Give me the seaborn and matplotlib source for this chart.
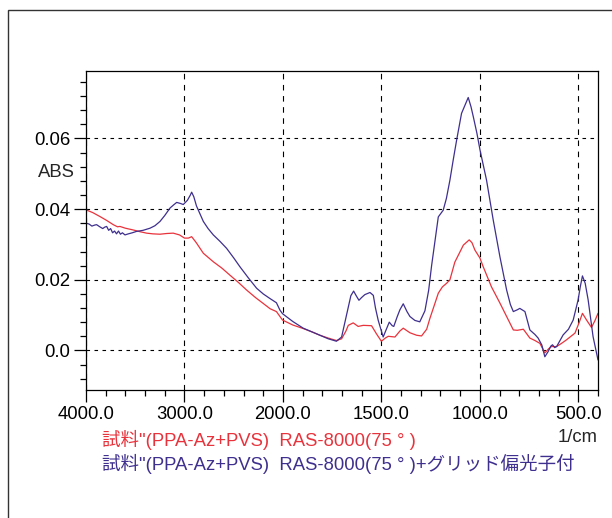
import numpy as np
import pandas as pd
import matplotlib
matplotlib.use("Agg")
import matplotlib.pyplot as plt
import seaborn as sns
from matplotlib.patches import Rectangle
from matplotlib.ticker import FixedLocator, FixedFormatter

# 波数 (1/cm) と吸光度 — 画像から読み取った値
wn_red = [4000, 3930, 3858, 3790, 3723, 3680, 3655, 3600, 3520, 3450, 3384, 3320,
          3249, 3180, 3114, 3050, 3000, 2960, 2927, 2880, 2808, 2707, 2620, 2538,
          2450, 2369, 2280, 2200, 2130, 2066, 2030, 2004, 1950, 1897, 1850, 1812,
          1770, 1728, 1702, 1680, 1668, 1643, 1618, 1592, 1550, 1525, 1500, 1480,
          1465, 1431, 1406, 1389, 1355, 1321, 1296, 1270, 1254, 1230, 1211, 1190,
          1169, 1152, 1127, 1100, 1084, 1054, 1040, 1025, 1000, 983, 941, 898,
          864, 830, 810, 779, 746, 720, 695, 670, 650, 636, 610, 580, 560, 517,
          495, 479, 458, 433, 415, 400]
abs_red = [0.0398, 0.0390, 0.0379, 0.0368, 0.0356, 0.0350, 0.0351, 0.0346, 0.0341,
           0.0336, 0.0332, 0.0330, 0.0329, 0.0331, 0.0332, 0.0327, 0.0318, 0.0318,
           0.0322, 0.0305, 0.0275, 0.0251, 0.0233, 0.0213, 0.0192, 0.0171, 0.0150,
           0.0133, 0.0118, 0.0110, 0.0096, 0.0086, 0.0072, 0.0062, 0.0052, 0.0043,
           0.0035, 0.0028, 0.0033, 0.0055, 0.0071, 0.0078, 0.0068, 0.0071, 0.0070,
           0.0047, 0.0026, 0.0035, 0.0040, 0.0038, 0.0055, 0.0063, 0.0050, 0.0043,
           0.0041, 0.0060, 0.0090, 0.0130, 0.0162, 0.0180, 0.0190, 0.0200, 0.0250,
           0.0280, 0.0298, 0.0313, 0.0305, 0.0284, 0.0262, 0.0237, 0.0180, 0.0134,
           0.0096, 0.0058, 0.0057, 0.0060, 0.0035, 0.0028, 0.0020, -0.0007, 0.0005,
           0.0011, 0.0011, 0.0022, 0.0030, 0.0049, 0.0080, 0.0105, 0.0086, 0.0065,
           0.0085, 0.0105]

wn_blue = [4000, 3970, 3940, 3910, 3892, 3860, 3830, 3810, 3790, 3770, 3750, 3730,
           3710, 3690, 3670, 3650, 3630, 3604, 3570, 3530, 3486, 3420, 3350, 3300,
           3249, 3200, 3147, 3110, 3079, 3040, 3012, 2970, 2940, 2927, 2905, 2878,
           2840, 2808, 2760, 2707, 2640, 2572, 2500, 2437, 2350, 2267, 2200, 2132,
           2066, 2030, 2004, 1950, 1897, 1850, 1812, 1770, 1728, 1702, 1685, 1668,
           1655, 1641, 1628, 1614, 1600, 1584, 1558, 1541, 1530, 1516, 1491, 1475,
           1460, 1445, 1437, 1420, 1406, 1389, 1370, 1355, 1330, 1305, 1279, 1260,
           1245, 1230, 1211, 1186, 1170, 1152, 1135, 1118, 1100, 1093, 1075, 1059,
           1045, 1033, 1015, 999, 966, 932, 898, 864, 845, 830, 810, 797, 771, 746,
           720, 704, 685, 670, 653, 640, 631, 620, 610, 577, 550, 526, 501, 490,
           479, 465, 450, 437, 425, 410, 400]
abs_blue = [0.0360, 0.0358, 0.0352, 0.0355, 0.0356, 0.0350, 0.0345, 0.0349, 0.0351,
            0.0340, 0.0345, 0.0333, 0.0338, 0.0330, 0.0338, 0.0329, 0.0333, 0.0327,
            0.0330, 0.0333, 0.0337, 0.0340, 0.0346, 0.0353, 0.0365, 0.0382, 0.0403,
            0.0412, 0.0419, 0.0416, 0.0413, 0.0425, 0.0440, 0.0448, 0.0435, 0.0409,
            0.0385, 0.0365, 0.0345, 0.0327, 0.0309, 0.0289, 0.0262, 0.0237, 0.0205,
            0.0176, 0.0160, 0.0147, 0.0135, 0.0114, 0.0104, 0.0082, 0.0063, 0.0052,
            0.0043, 0.0033, 0.0026, 0.0038, 0.0080, 0.0123, 0.0155, 0.0168, 0.0155,
            0.0142, 0.0150, 0.0158, 0.0164, 0.0156, 0.0120, 0.0085, 0.0038, 0.0060,
            0.0080, 0.0070, 0.0068, 0.0095, 0.0115, 0.0132, 0.0110, 0.0096, 0.0085,
            0.0081, 0.0112, 0.0170, 0.0240, 0.0300, 0.0378, 0.0397, 0.0430, 0.0482,
            0.0540, 0.0595, 0.0650, 0.0671, 0.0695, 0.0716, 0.0690, 0.0661, 0.0615,
            0.0567, 0.0482, 0.0369, 0.0265, 0.0171, 0.0130, 0.0110, 0.0115, 0.0119,
            0.0110, 0.0058, 0.0045, 0.0035, 0.0015, -0.0018, -0.0003, 0.0012, 0.0016,
            0.0008, 0.0011, 0.0044, 0.0060, 0.0086, 0.0143, 0.0180, 0.0211, 0.0190,
            0.0143, 0.0090, 0.0039, 0.0000, -0.0027]

x_major = [4000, 3000, 2000, 1500, 1000, 500]
x_labels = ["4000.0", "3000.0", "2000.0", "1500.0", "1000.0", "500.0"]
y_major = [0.0, 0.02, 0.04, 0.06]
y_labels = ["0.0", "0.02", "0.04", "0.06"]

label_red = '試料"(PPA-Az+PVS)  RAS-8000(75 ° )'
label_blue = '試料"(PPA-Az+PVS)  RAS-8000(75 ° )+グリッド偏光子付'

red = "#e8333c"
blue = "#3f2f8e"
fs = 13.3

sns.set_style("ticks")
fonts = ["Liberation Sans", "Noto Sans CJK JP", "DejaVu Sans"]
plt.rcParams["font.family"] = fonts
plt.rcParams["axes.unicode_minus"] = False


# 横軸は 2000 で目盛り間隔が変わる (4000-2000: 1000/目盛, 2000以下: 500/目盛)
def fwd(w):
    w = np.asarray(w, dtype=float)
    pos = np.where(w >= 2000, (4000 - w) / 1000, 2 + (2000 - w) / 500)
    return -pos


def inv(f):
    p = -np.asarray(f, dtype=float)
    return np.where(p <= 2, 4000 - 1000 * p, 2000 - 500 * (p - 2))


df_red = pd.DataFrame({"wn": wn_red, "abs": abs_red})
df_blue = pd.DataFrame({"wn": wn_blue, "abs": abs_blue})

fig = plt.figure(figsize=(6.12, 5.18), dpi=100)
ax = fig.add_axes([86 / 612, 1 - 390 / 518, 512 / 612, 319 / 518])
ax.set_xscale("function", functions=(fwd, inv))

sns.lineplot(data=df_red, x="wn", y="abs", color=red, lw=0.9, ax=ax, sort=False)
sns.lineplot(data=df_blue, x="wn", y="abs", color=blue, lw=0.9, ax=ax, sort=False)

ax.set_xlim(4000, 400)
ax.set_ylim(-0.0112, 0.0791)

ax.xaxis.set_major_locator(FixedLocator(x_major))
ax.xaxis.set_major_formatter(FixedFormatter(x_labels))
x_minor = list(range(3800, 2000, -200)) + list(range(1900, 399, -100))
ax.xaxis.set_minor_locator(FixedLocator(x_minor))
ax.yaxis.set_major_locator(FixedLocator(y_major))
ax.yaxis.set_major_formatter(FixedFormatter(y_labels))
ax.yaxis.set_minor_locator(FixedLocator(np.arange(-0.008, 0.0781, 0.004)))

ax.tick_params(which="major", direction="out", length=8.5, width=0.9,
               labelsize=fs, colors="black", pad=3)
ax.tick_params(which="minor", direction="out", length=4.3, width=0.9, colors="black")
for s in ax.spines.values():
    s.set_linewidth(0.9)
    s.set_color("black")

ax.xaxis.grid(True, which="major", color="black", lw=0.8, ls=(0, (5, 5)))
ax.yaxis.grid(True, which="major", color="black", lw=0.8, ls=(0, (3.2, 4)))
ax.set_xlabel("")
ax.set_ylabel("")

ax.text(-0.022, 0.0505, "ABS", transform=ax.get_yaxis_transform(),
        ha="right", va="center", fontsize=fs)

fig.text(598 / 612, 1 - 438 / 518, "1/cm", ha="right", va="center", fontsize=fs)
fig.text(102 / 612, 1 - 440 / 518, label_red, color=red, ha="left", va="center",
         fontsize=fs)
fig.text(102 / 612, 1 - 464 / 518, label_blue, color=blue, ha="left", va="center",
         fontsize=fs)

# 外枠
fig.add_artist(Rectangle((8 / 612, -0.2), 1.2, 1.2 - 10 / 518, transform=fig.transFigure,
                         fill=False, ec="#333333", lw=1.0))

fig.savefig("out.png", dpi=100)
